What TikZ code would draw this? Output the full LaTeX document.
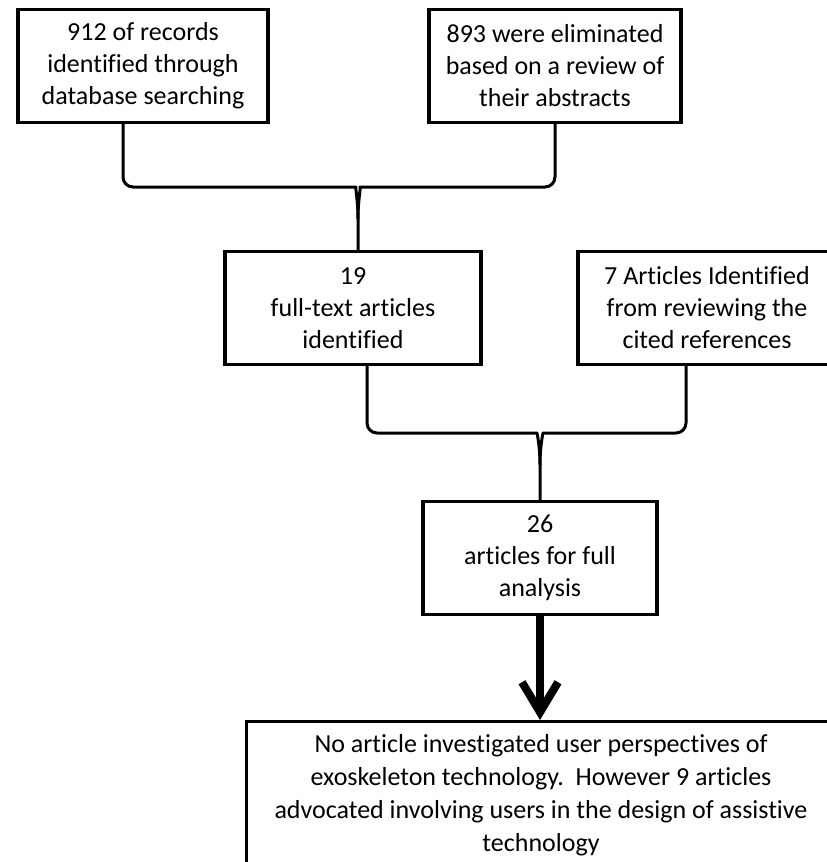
\documentclass[tikz,border=0pt]{standalone}
\usepackage{fontspec}
\setmainfont{Carlito}[Ligatures=NoCommon]
\usetikzlibrary{arrows.meta}

\begin{document}
\begin{tikzpicture}[
    x=1pt, y=-1pt,
    stage/.style={draw, line width=3.2pt, align=center, minimum height=113pt,
        inner sep=3pt, font=\fontsize{26}{32}\selectfont},
    brace/.style={line width=3pt, line join=round},
    flow/.style={line width=8pt, -{Straight Barb[length=30pt, width=36pt]}}
]
\useasboundingbox (0,0) rectangle (827,862);

\node[stage, minimum width=250pt] (records) at (143,66) {912 of records\\identified through\\database searching};
\node[stage, minimum width=252pt] (eliminated) at (555,66) {893 were eliminated\\based on a review of\\their abstracts};
\node[stage, minimum width=256pt] (fulltext) at (353,308) {19\\full-text articles\\identified};
\node[stage, minimum width=258pt] (cited) at (707,308) {7 Articles Identified\\from reviewing the\\cited references};
\node[stage, minimum width=234pt] (analysis) at (540,558) {26\\articles for full\\analysis};
\node[draw, line width=3.2pt, anchor=north west, minimum width=592pt, minimum height=200pt] (result) at (245,720) {};
\node[align=center, font=\fontsize{26}{33}\selectfont, anchor=north] (resulttext) at (541,731)
    {No article investigated user perspectives of\\exoskeleton technology.\ \ However 9 articles\\advocated involving users in the design of assistive\\technology};

\coordinate (h1l) at (346,187);
\coordinate (h1r) at (370,187);
\coordinate (cusp1) at (358,219);
\coordinate (h2l) at (527,433);
\coordinate (h2r) at (553,433);
\coordinate (cusp2) at (540,465);

\draw[brace] ([xshift=-20pt]records.south) [rounded corners=10pt] |- (h1l) [sharp corners]
    .. controls (355,187) and (358,200) .. (cusp1) -- (cusp1 |- fulltext.north);
\draw[brace] (eliminated.south) [rounded corners=10pt] |- (h1r) [sharp corners]
    .. controls (361,187) and (358,200) .. (cusp1);

\draw[brace] ([xshift=14pt]fulltext.south) [rounded corners=10pt] |- (h2l) [sharp corners]
    .. controls (537,433) and (540,446) .. (cusp2) -- (analysis.north);
\draw[brace] ([xshift=-21pt]cited.south) [rounded corners=10pt] |- (h2r) [sharp corners]
    .. controls (543,433) and (540,446) .. (cusp2);

\draw[flow] (analysis.south) -- (analysis.south |- result.north);

\end{tikzpicture}
\end{document}
